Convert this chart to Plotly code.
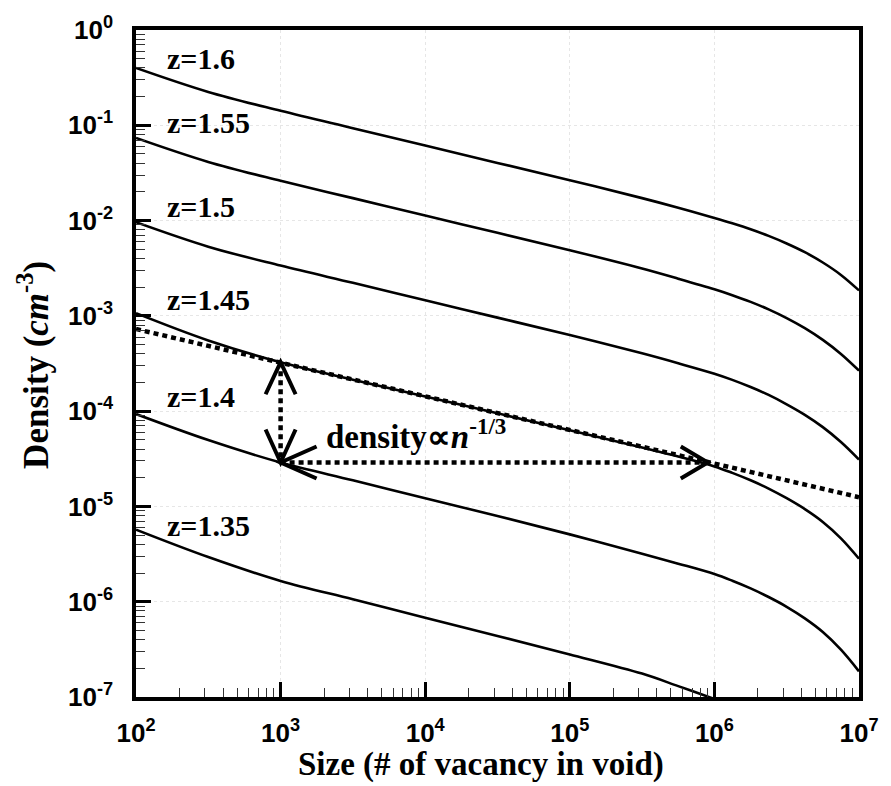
import plotly.graph_objects as go

# Void size (number of vacancies) at which each density curve is sampled
size_n = [1e2, 3.16e2, 1e3, 3.16e3, 1e4, 3.16e4, 1e5, 3.16e5, 5.62e5,
          1e6, 1.33e6, 1.78e6, 2.37e6, 3.16e6, 4.22e6, 5.62e6, 7.5e6, 1e7]

# Void number density (cm^-3) for each z value
dens_z160 = [0.400, 0.224, 0.142, 0.0932, 0.0613, 0.0403, 0.0265, 0.0172, 0.01364,
             0.01065, 0.00936, 0.00811, 0.00691, 0.00575, 0.00466, 0.00363, 0.00269, 0.00185]
dens_z155 = [0.0737, 0.0413, 0.0262, 0.0172, 0.01131, 0.00744, 0.00489, 0.00314, 0.002457,
             0.00190, 0.001647, 0.001403, 0.001169, 0.000947, 0.000743, 0.000559, 0.000398, 0.000266]
dens_z150 = [0.00961, 0.00532, 0.00337, 0.00222, 0.00146, 0.000958, 0.000630, 0.000404, 0.000318,
             0.000247, 0.000213, 0.000179, 0.000148, 0.000118, 9.15e-5, 6.80e-5, 4.75e-5, 3.11e-5]
dens_z145 = [0.001067, 0.000552, 0.000326, 0.000214, 0.0001425, 9.48e-5, 6.31e-5, 4.15e-5, 3.34e-5,
             2.63e-5, 2.25e-5, 1.88e-5, 1.54e-5, 1.22e-5, 9.38e-6, 6.88e-6, 4.63e-6, 2.83e-6]
dens_z140 = [9.32e-5, 4.97e-5, 2.89e-5, 1.88e-5, 1.22e-5, 7.93e-6, 5.09e-6, 3.19e-6, 2.51e-6,
             1.95e-6, 1.66e-6, 1.38e-6, 1.12e-6, 8.85e-7, 6.69e-7, 4.81e-7, 3.14e-7, 1.86e-7]
dens_z135 = [5.70e-6, 2.94e-6, 1.65e-6, 1.06e-6, 6.80e-7, 4.37e-7, 2.80e-7, 1.76e-7, 1.30e-7,
             9.53e-8, 8.15e-8, 6.81e-8, 5.56e-8, 4.43e-8, 3.36e-8, 2.46e-8, 1.66e-8, 1.0e-8]

curves = [dens_z160, dens_z155, dens_z150, dens_z145, dens_z140, dens_z135]
z_labels = ["z=1.6", "z=1.55", "z=1.5", "z=1.45", "z=1.4", "z=1.35"]

# n^(-1/3) reference line
guide_n = [1e2, 1e7]
guide_density = [7.27e-4, 1.25e-5]

# Double arrows: vertical gap at n=1e3, horizontal shift to ~1e6
arrow_n = 1e3
arrow_far_n = 9e5

# Axis ticks
x_tickvals = [1e2, 1e3, 1e4, 1e5, 1e6, 1e7]
x_ticktext = ["10<sup>2</sup>", "10<sup>3</sup>", "10<sup>4</sup>",
              "10<sup>5</sup>", "10<sup>6</sup>", "10<sup>7</sup>"]
y_tickvals = [1e-7, 1e-6, 1e-5, 1e-4, 1e-3, 1e-2, 1e-1, 1e0]
y_ticktext = ["10<sup>-7</sup>", "10<sup>-6</sup>", "10<sup>-5</sup>", "10<sup>-4</sup>",
              "10<sup>-3</sup>", "10<sup>-2</sup>", "10<sup>-1</sup>", "10<sup>0</sup>"]

SERIF = "Liberation Serif, Times New Roman, serif"
SANS = "Liberation Sans, Arial, sans-serif"
DOTS = "5px,4px"

fig = go.Figure()

# dotted guide line and arrow shafts
fig.add_trace(go.Scatter(x=guide_n, y=guide_density, mode="lines",
                         line=dict(color="black", width=4.5, dash=DOTS),
                         hoverinfo="skip", showlegend=False))
y_top = dens_z145[size_n.index(arrow_n)]
y_bot = dens_z140[size_n.index(arrow_n)]
fig.add_trace(go.Scatter(x=[arrow_n, arrow_n], y=[y_top, y_bot], mode="lines",
                         line=dict(color="black", width=4.5, dash=DOTS),
                         hoverinfo="skip", showlegend=False))
fig.add_trace(go.Scatter(x=[arrow_n, arrow_far_n], y=[y_bot, y_bot], mode="lines",
                         line=dict(color="black", width=4.5, dash=DOTS),
                         hoverinfo="skip", showlegend=False))

# density curves
for dens, name in zip(curves, z_labels):
    fig.add_trace(go.Scatter(x=size_n, y=dens, mode="lines", name=name,
                             line=dict(color="black", width=2.6, shape="spline", smoothing=1.0),
                             showlegend=False))

# open chevron arrow heads (pixel-sized, anchored at data points)
def chevron(xa, ya, path):
    return dict(type="path", xref="x", yref="y", xsizemode="pixel", ysizemode="pixel",
                xanchor=xa, yanchor=ya, path=path,
                line=dict(color="black", width=4))

shapes = [
    chevron(arrow_n, y_top, "M -15,-32 L 0,0 L 15,-32"),
    chevron(arrow_n, y_bot, "M -15,33 L 0,0 L 15,33"),
    chevron(arrow_n, y_bot, "M 36,16 L 0,0 L 36,-16"),
    chevron(arrow_far_n, y_bot, "M -27,16 L 0,0 L -27,-16"),
]

# curve labels (log10 positions on the log axes)
label_x = 2.2
label_logy = [-0.30, -0.97, -1.855, -2.83, -3.845, -5.20]
annotations = []
for txt, ly in zip(z_labels, label_logy):
    annotations.append(dict(x=label_x, y=ly, xref="x", yref="y", text="<b>" + txt + "</b>",
                            showarrow=False, xanchor="left", yanchor="middle",
                            font=dict(family=SERIF, size=30, color="black")))

annotations.append(dict(x=3.3, y=-4.24, xref="x", yref="y",
                        text="<b>density\u221d<i>n</i><sup>-1/3</sup></b>",
                        showarrow=False, xanchor="left", yanchor="middle",
                        font=dict(family=SERIF, size=33, color="black")))

# axis titles
annotations.append(dict(x=0.4767, y=-0.101, xref="paper", yref="paper",
                        text="<b>Size (# of vacancy in void)</b>",
                        showarrow=False, xanchor="center", yanchor="middle",
                        font=dict(family=SERIF, size=33, color="black")))
annotations.append(dict(x=-0.141, y=0.498, xref="paper", yref="paper",
                        text="<b>Density (<i>cm</i><sup>-3</sup>)</b>", textangle=-90,
                        showarrow=False, xanchor="center", yanchor="middle",
                        font=dict(family=SERIF, size=35, color="black")))

axis_common = dict(
    type="log", showline=True, linecolor="black", linewidth=3.5, mirror=True,
    ticks="inside", ticklen=15, tickwidth=2.5, tickcolor="black",
    showgrid=True, gridcolor="#e6e6e6", griddash="dot", gridwidth=1,
    zeroline=False, tickmode="array",
    tickfont=dict(family=SANS, size=26, color="black", weight="bold"),
    minor=dict(ticks="inside", ticklen=9, tickwidth=1.3, tickcolor="#333333",
               dtick="D1", showgrid=False),
)

fig.update_layout(
    width=891, height=786,
    margin=dict(l=136, r=25, t=24, b=89),
    paper_bgcolor="white", plot_bgcolor="white",
    xaxis=dict(axis_common, range=[2, 7], tickvals=x_tickvals, ticktext=x_ticktext,
               ticklabelstandoff=10),
    yaxis=dict(axis_common, range=[-7, 0], tickvals=y_tickvals, ticktext=y_ticktext,
               ticklabelstandoff=14),
    shapes=shapes,
    annotations=annotations,
)

fig.write_html("out.html")
